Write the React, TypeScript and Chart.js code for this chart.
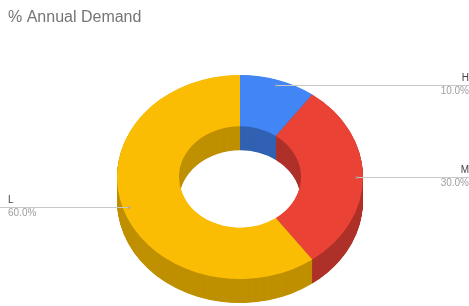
import React, { useEffect, useRef } from 'react';
import { Chart, registerables } from 'chart.js';

Chart.register(...registerables);

// ---- data ----
const categories = ['H', 'M', 'L'];
const demandValues = [10, 30, 60];
const topColors = ['#4285F4', '#EA4335', '#FBBC04'];
const sideColors = ['#3262B3', '#AE3129', '#BF9000'];
const chartTitle = '% Annual Demand';

// ---- geometry of the tilted donut ----
const CENTER_X = 240;
const CENTER_Y = 177;
const OUTER = 123;
const INNER = 61;
const TILT = 0.83;
const DEPTH = 24;
const FONT = "'Liberation Sans', Arial, sans-serif";

function applyTilt(chart: any, ctx: CanvasRenderingContext2D) {
  const el = chart.getDatasetMeta(0).data[0];
  const cx = el.x;
  const cy = el.y;
  ctx.translate(CENTER_X - cx, CENTER_Y);
  ctx.scale(1, TILT);
  ctx.translate(0, -cy);
}

const donut3d = {
  id: 'donut3d',
  beforeDatasetsDraw(chart: any) {
    const ctx: CanvasRenderingContext2D = chart.ctx;
    ctx.save();
    applyTilt(chart, ctx);
    const meta = chart.getDatasetMeta(0);
    for (let d = DEPTH; d > 0; d -= 0.5) {
      meta.data.forEach((el: any, i: number) => {
        const p = el.getProps(['x', 'y', 'startAngle', 'endAngle', 'innerRadius', 'outerRadius'], true);
        const oy = p.y + d / TILT;
        ctx.beginPath();
        ctx.arc(p.x, oy, p.outerRadius, p.startAngle, p.endAngle);
        ctx.arc(p.x, oy, p.innerRadius, p.endAngle, p.startAngle, true);
        ctx.closePath();
        ctx.fillStyle = sideColors[i];
        ctx.fill();
      });
    }
  },
  afterDatasetsDraw(chart: any) {
    chart.ctx.restore();
  },
  afterDraw(chart: any) {
    const ctx: CanvasRenderingContext2D = chart.ctx;
    const meta = chart.getDatasetMeta(0);
    const total = demandValues.reduce((a, b) => a + b, 0);
    ctx.save();
    meta.data.forEach((el: any, i: number) => {
      const p = el.getProps(['x', 'y', 'startAngle', 'endAngle', 'outerRadius'], true);
      const mid = (p.startAngle + p.endAngle) / 2;
      const r = p.outerRadius * 0.95;
      const sx = CENTER_X + Math.cos(mid) * r;
      const sy = CENTER_Y + Math.sin(mid) * r * TILT;
      const right = Math.cos(mid) >= 0;
      const ex = right ? chart.width : 0;
      ctx.strokeStyle = '#c8c8c8';
      ctx.lineWidth = 1;
      ctx.beginPath();
      ctx.moveTo(sx, Math.round(sy) + 0.5);
      ctx.lineTo(ex, Math.round(sy) + 0.5);
      ctx.stroke();
      ctx.fillStyle = 'rgba(160,160,160,0.6)';
      ctx.beginPath();
      ctx.arc(sx, Math.round(sy) + 0.5, 1.5, 0, Math.PI * 2);
      ctx.fill();
      ctx.font = `10px ${FONT}`;
      ctx.textBaseline = 'middle';
      ctx.textAlign = right ? 'right' : 'left';
      const tx = right ? chart.width : 8;
      ctx.fillStyle = '#444444';
      ctx.fillText(categories[i], tx, sy - 7);
      ctx.fillStyle = '#9e9e9e';
      ctx.fillText(((demandValues[i] / total) * 100).toFixed(1) + '%', tx, sy + 6);
    });
    ctx.restore();
  },
};

export default function App() {
  const canvasRef = useRef<HTMLCanvasElement | null>(null);

  useEffect(() => {
    if (!canvasRef.current) return;
    const chart = new Chart(canvasRef.current, {
      type: 'doughnut',
      data: {
        labels: categories,
        datasets: [
          {
            data: demandValues,
            backgroundColor: topColors,
            borderWidth: 0,
            radius: OUTER,
            cutout: `${(INNER / OUTER) * 100}%`,
            clip: false,
          } as any,
        ],
      },
      options: {
        responsive: false,
        animation: false,
        events: [],
        layout: { padding: { left: 8 } },
        plugins: {
          legend: { display: false },
          tooltip: { enabled: false },
          title: {
            display: true,
            text: chartTitle,
            align: 'start',
            color: '#757575',
            font: { family: FONT, size: 16, weight: 'normal' },
            padding: { top: 8, bottom: 4 },
          },
        },
      },
      plugins: [donut3d],
    });
    return () => chart.destroy();
  }, []);

  return (
    <div style={{ position: 'fixed', left: 0, top: 0, width: 469, height: 306, background: '#fff' }}>
      <canvas ref={canvasRef} width={469} height={306} />
    </div>
  );
}
